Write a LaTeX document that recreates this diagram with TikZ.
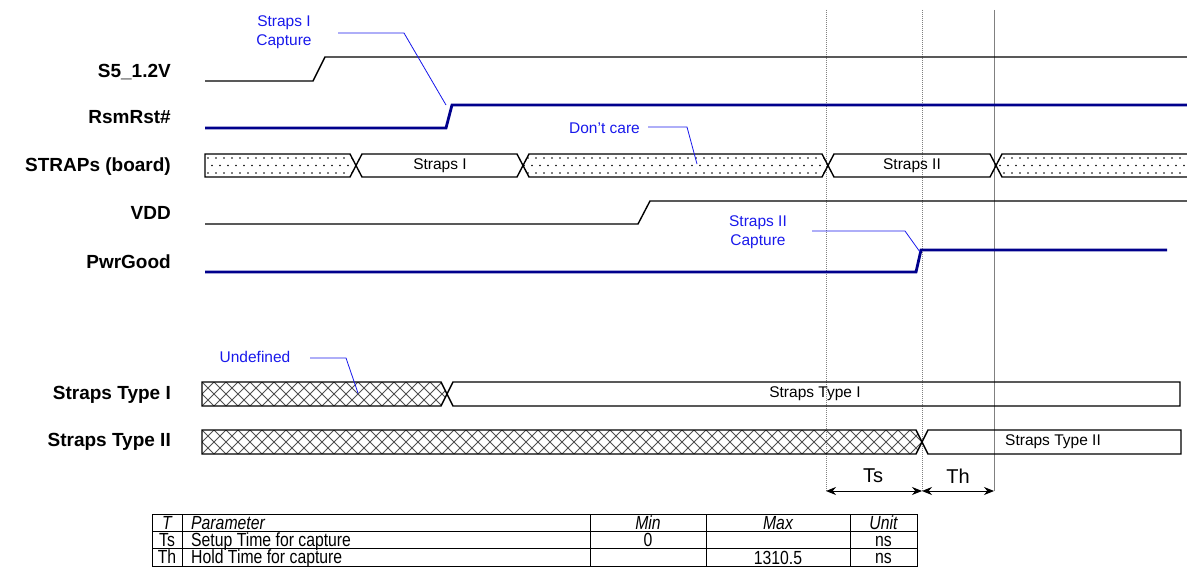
\documentclass[tikz,border=0pt]{standalone}
\usepackage{fontspec}
\setmainfont{Liberation Sans}
\newfontfamily\tablefont[FakeStretch=0.83]{Liberation Sans}
\usetikzlibrary{arrows.meta}
\definecolor{navy}{RGB}{0,0,140}
\definecolor{lblue}{RGB}{25,25,235}
\definecolor{hatch}{RGB}{80,80,80}
\tikzset{
  sig/.style={line width=1.4pt, black, line join=miter},
  sigb/.style={line width=2.8pt, navy, line join=miter},
  busline/.style={line width=1.4pt, black, line join=miter},
  siglabel/.style={anchor=east, inner sep=0pt, font=\fontsize{19}{22}\selectfont\bfseries},
  note/.style={inner sep=0pt, align=center, text=lblue, font=\fontsize{15.5}{19}\selectfont},
  leader/.style={lblue, line width=0.8pt},
  bustext/.style={inner sep=0pt, font=\fontsize{15.5}{18}\selectfont},
  guidedot/.style={gray, line width=1pt, dash pattern=on 1pt off 1pt},
  guidesolid/.style={gray, line width=1pt},
  dimarrow/.style={line width=1pt, {Stealth[length=10pt,width=8pt]}-{Stealth[length=10pt,width=8pt]}},
  dimtext/.style={inner sep=0pt, font=\fontsize{20}{24}\selectfont},
  tabline/.style={line width=0.8pt, black},
  tabtext/.style={inner sep=0pt, anchor=base, font=\fontsize{19}{22}\tablefont},
  tabhead/.style={inner sep=0pt, anchor=base, font=\fontsize{19}{22}\tablefont\itshape},
}
\begin{document}
\begin{tikzpicture}[x=1pt,y=-1pt]
\useasboundingbox (0,0) rectangle (1187,583);

% ---------- signal labels ----------
\node[siglabel] (lS5)  at (171,72)  {S5\_1.2V};
\node[siglabel] (lRsm) at (171,117) {RsmRst\#};
\node[siglabel] (lStr) at (171,167) {STRAPs (board)};
\node[siglabel] (lVdd) at (171,213) {VDD};
\node[siglabel] (lPwr) at (171,262) {PwrGood};
\node[siglabel] (lT1)  at (171,395) {Straps Type I};
\node[siglabel] (lT2)  at (171,442) {Straps Type II};

% ---------- guide lines ----------
\coordinate (g1t) at (826,10);  \coordinate (g1b) at (826,491);
\coordinate (g2t) at (922,10);  \coordinate (g2b) at (922,491);
\coordinate (g3t) at (994,10);  \coordinate (g3b) at (994,491);
\draw[guidedot] (g1t) -- (g1b);
\draw[guidedot] (g2t) -- (g2b);
\draw[guidesolid] (g3t) -- (g3b);

% ---------- simple waveforms ----------
\draw[sig]  (205,81) -- (313,81) -- (325,57) -- (1187,57);
\draw[sigb] (205,128) -- (446,128) -- (452,105) -- (1187,105);
\draw[sig]  (205,224) -- (638,224) -- (650,201) -- (1187,201);
\draw[sigb] (205,272) -- (916,272) -- (921,250) -- (1167,250);

% ---------- STRAPs (board) bus ----------
% dotted A
\begin{scope}
  \clip (205,154) -- (350,154) -- (356,165.5) -- (350,177) -- (205,177) -- cycle;
  \foreach \xx in {0,8,...,160} {
    \fill (208+\xx,158) circle (0.8pt);
    \fill (212+\xx,165.5) circle (0.8pt);
    \fill (208+\xx,173) circle (0.8pt);
  }
\end{scope}
\draw[busline] (205,154) -- (350,154) -- (356,165.5) -- (350,177) -- (205,177) -- cycle;
% dotted B
\begin{scope}
  \clip (523,165.5) -- (529,154) -- (822,154) -- (828,165.5) -- (822,177) -- (529,177) -- cycle;
  \foreach \xx in {0,8,...,320} {
    \fill (520+\xx,158) circle (0.8pt);
    \fill (524+\xx,165.5) circle (0.8pt);
    \fill (520+\xx,173) circle (0.8pt);
  }
\end{scope}
\draw[busline] (523,165.5) -- (529,154) -- (822,154) -- (828,165.5) -- (822,177) -- (529,177) -- cycle;
% dotted C
\begin{scope}
  \clip (996,165.5) -- (1002,154) -- (1187,154) -- (1187,177) -- (1002,177) -- cycle;
  \foreach \xx in {0,8,...,200} {
    \fill (996+\xx,158) circle (0.8pt);
    \fill (1000+\xx,165.5) circle (0.8pt);
    \fill (996+\xx,173) circle (0.8pt);
  }
\end{scope}
\draw[busline] (1187,154) -- (1002,154) -- (996,165.5) -- (1002,177) -- (1187,177);
% Straps I / II
\draw[busline] (356,165.5) -- (362,154) -- (517,154) -- (523,165.5) -- (517,177) -- (362,177) -- cycle;
\draw[busline] (828,165.5) -- (834,154) -- (990,154) -- (996,165.5) -- (990,177) -- (834,177) -- cycle;
\node[bustext] (tS1) at (440,165.5) {Straps I};
\node[bustext] (tS2) at (912,165.5) {Straps II};

% ---------- Straps Type I ----------
\begin{scope}
  \clip (202,382) -- (441,382) -- (447,394) -- (441,406) -- (202,406) -- cycle;
  \foreach \k in {166,178,...,460} {
    \draw[hatch, line width=0.9pt] (\k,382) -- ++(24,24);
    \draw[hatch, line width=0.9pt] (\k,406) -- ++(24,-24);
  }
\end{scope}
\draw[busline] (202,382) -- (441,382) -- (447,394) -- (441,406) -- (202,406) -- cycle;
\draw[busline] (447,394) -- (453,382) -- (1180,382) -- (1180,406) -- (453,406) -- cycle;
\node[bustext] (tT1) at (815,394) {Straps Type I};

% ---------- Straps Type II ----------
\begin{scope}
  \clip (202,430) -- (916,430) -- (922,442) -- (916,454) -- (202,454) -- cycle;
  \foreach \k in {166,178,...,940} {
    \draw[hatch, line width=0.9pt] (\k,430) -- ++(24,24);
    \draw[hatch, line width=0.9pt] (\k,454) -- ++(24,-24);
  }
\end{scope}
\draw[busline] (202,430) -- (916,430) -- (922,442) -- (916,454) -- (202,454) -- cycle;
\draw[busline] (922,442) -- (928,430) -- (1181,430) -- (1181,454) -- (928,454) -- cycle;
\node[bustext] (tT2) at (1053,442) {Straps Type II};

% ---------- annotations ----------
\node[note] (n1) at (284,32) {Straps I\\Capture};
\coordinate (n1a) at (338,33); \coordinate (n1b) at (404,33); \coordinate (n1c) at (446,105);
\draw[leader] (n1a) -- (n1b) -- (n1c);

\node[note, anchor=east] (n2) at (640,128) {Don't care};
\coordinate (n2a) at (648,127); \coordinate (n2b) at (687,127); \coordinate (n2c) at (697,164);
\draw[leader] (n2a) -- (n2b) -- (n2c);

\node[note] (n3) at (758,232) {Straps II\\Capture};
\coordinate (n3a) at (812,231); \coordinate (n3b) at (905,231); \coordinate (n3c) at (920,252);
\draw[leader] (n3a) -- (n3b) -- (n3c);

\node[note] (n4) at (255,357) {Undefined};
\coordinate (n4a) at (310,358); \coordinate (n4b) at (346,358); \coordinate (n4c) at (358,393);
\draw[leader] (n4a) -- (n4b) -- (n4c);

% ---------- Ts / Th ----------
\draw[dimarrow] (g1b) -- (g2b);
\draw[dimarrow] (g2b) -- (g3b);
\node[dimtext] (dTs) at (873,476) {Ts};
\node[dimtext] (dTh) at (958,476) {Th};

% ---------- table ----------
\draw[tabline] (152,514) rectangle (917,566);
\draw[tabline] (152,531) -- (917,531);
\draw[tabline] (152,548) -- (917,548);
\foreach \cx in {182,590,706,850} { \draw[tabline] (\cx,514) -- (\cx,566); }
\node[tabhead] (hT) at (167,529) {T};
\node[tabhead, anchor=base west] (hP) at (191,529) {Parameter};
\node[tabhead] (hMin) at (648,529) {Min};
\node[tabhead] (hMax) at (778,529) {Max};
\node[tabhead] (hU) at (883.5,529) {Unit};
\node[tabtext] (r1T) at (167,546) {Ts};
\node[tabtext, anchor=base west] (r1P) at (191,546) {Setup Time for capture};
\node[tabtext] (r1Min) at (648,546) {0};
\node[tabtext] (r1U) at (883.5,546) {ns};
\node[tabtext] (r2T) at (167,563.5) {Th};
\node[tabtext, anchor=base west] (r2P) at (191,563.5) {Hold Time for capture};
\node[tabtext] (r2Max) at (778,564.5) {1310.5};
\node[tabtext] (r2U) at (883.5,563.5) {ns};
\end{tikzpicture}
\end{document}
